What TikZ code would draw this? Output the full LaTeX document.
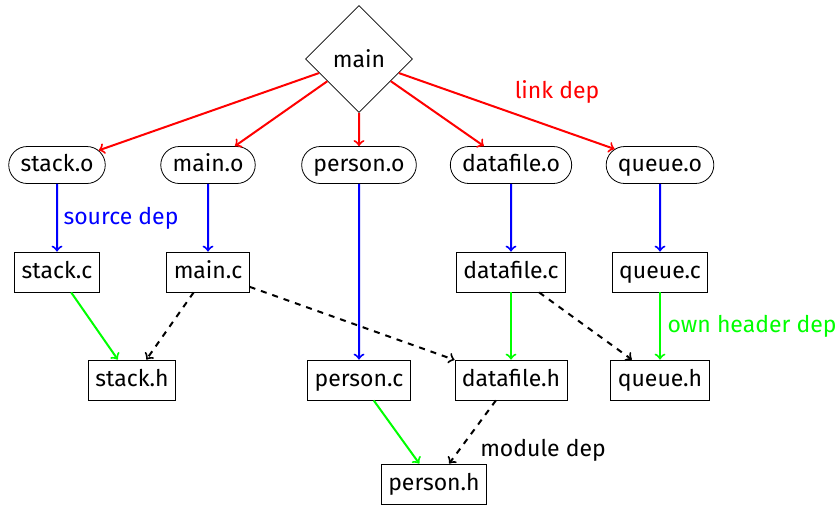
\documentclass[tikz,border=0pt]{standalone}
\usepackage{fontspec}
\setmainfont{Fira Sans}
\usetikzlibrary{shapes.geometric,shapes.misc}
\begin{document}
\begin{tikzpicture}[x=0.5pt,y=-0.5pt,
  every node/.style={font=\fontsize{11.5}{13}\selectfont},
  obj/.style={draw,rounded rectangle,minimum height=18.5pt,inner xsep=4pt,text height=8.6pt,text depth=2.6pt},
  src/.style={draw,rectangle,minimum height=20pt,inner xsep=3.5pt,text height=8.6pt,text depth=2.6pt},
  diam/.style={draw,diamond,minimum width=53.5pt,minimum height=53.5pt,inner sep=0pt},
  link/.style={->,red,line width=1pt},
  srcdep/.style={->,blue,line width=1pt},
  owndep/.style={->,green,line width=1pt},
  moddep/.style={->,black,dashed,line width=1pt},
  lab/.style={anchor=center}]
\useasboundingbox (0,0) rectangle (838,505);
\node[diam] (main) at (359,59) {main};
\node[obj] (stacko) at (57,165) {stack.o};
\node[obj] (maino) at (208,165) {main.o};
\node[obj] (persono) at (359,165) {person.o};
\node[obj] (datafileo) at (511,165) {datafile.o};
\node[obj] (queueo) at (660,165) {queue.o};
\node[src] (stackc) at (57,272) {stack.c};
\node[src] (mainc) at (208,272) {main.c};
\node[src] (datafilec) at (511,272) {datafile.c};
\node[src] (queuec) at (660,272) {queue.c};
\node[src] (stackh) at (132,380) {stack.h};
\node[src] (personc) at (359,380) {person.c};
\node[src] (datafileh) at (511,380) {datafile.h};
\node[src] (queueh) at (660,380) {queue.h};
\node[src] (personh) at (434,484) {person.h};
\draw[link] (main) -- (stacko);
\draw[link] (main) -- (maino);
\draw[link] (main) -- (persono);
\draw[link] (main) -- (datafileo);
\draw[link] (main) -- (queueo);
\draw[srcdep] (stacko) -- (stackc);
\draw[srcdep] (maino) -- (mainc);
\draw[srcdep] (persono) -- (personc);
\draw[srcdep] (datafileo) -- (datafilec);
\draw[srcdep] (queueo) -- (queuec);
\draw[owndep] (stackc) -- (stackh);
\draw[owndep] (datafilec) -- (datafileh);
\draw[owndep] (queuec) -- (queueh);
\draw[owndep] (personc) -- (personh);
\draw[moddep] (mainc) -- (stackh);
\draw[moddep] (mainc) -- (datafileh);
\draw[moddep] (datafilec) -- (queueh);
\draw[moddep] (datafileh) -- (personh);
\node[lab,red] (llink) at (557,92) {link dep};
\node[lab,blue] (lsrc) at (121,218) {source dep};
\node[lab,green] (lown) at (752,326) {own header dep};
\node[lab] (lmod) at (543,450) {module dep};
\end{tikzpicture}
\end{document}
